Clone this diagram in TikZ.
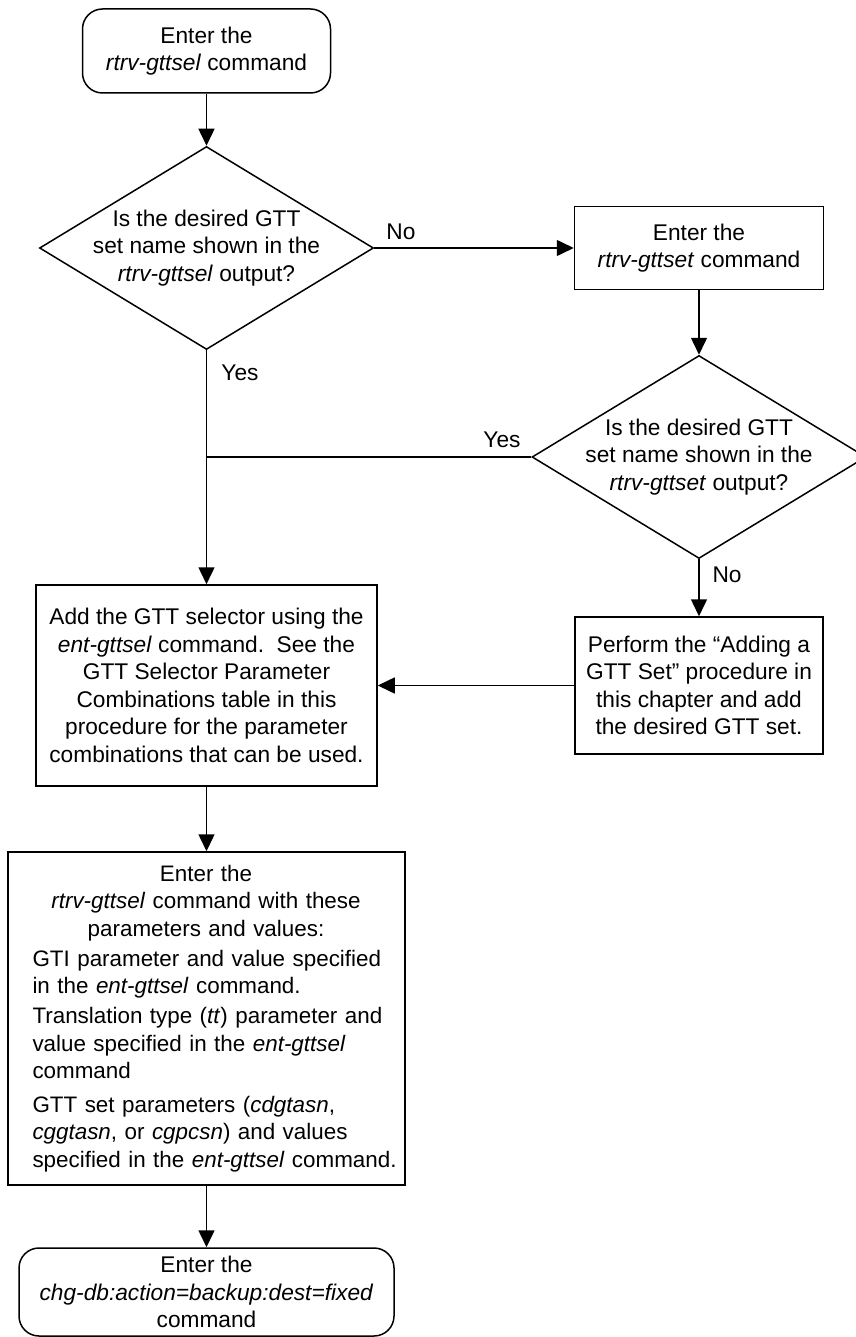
\documentclass[tikz,border=0pt]{standalone}
\usepackage{fontspec}
\setmainfont{Liberation Sans}
\usetikzlibrary{arrows.meta,shapes.geometric}
\begin{document}
\begin{tikzpicture}[x=1pt,y=-1pt,
  every node/.style={font=\fontsize{22.7}{27.5}\selectfont},
  line/.style={line width=1.5pt},
  arr/.style={line width=1.5pt,-{Triangle[length=17pt,width=16pt]}},
  terminal/.style={draw,line width=1.5pt,rounded corners=20pt,inner sep=0pt,align=center},
  procbox/.style={draw,line width=1.5pt,inner sep=0pt,align=center},
  decision/.style={draw,line width=1.5pt,diamond,inner sep=0pt,minimum width=334pt,minimum height=203pt},
  txt/.style={inner sep=0pt,align=center},
  lbl/.style={inner sep=0pt}
]
\useasboundingbox (0,0) rectangle (855,1337);

% start
\node[terminal,minimum width=248pt,minimum height=84pt] (start) at (206.5,51) {Enter the\\\textit{rtrv-gttsel} command};

% decision 1
\node[decision] (d1) at (206.5,248) {};
\node[txt] (d1t) at (d1.center) {Is the desired GTT\\set name shown in the\\\textit{rtrv-gttsel} output?};

% box 2
\node[procbox,minimum width=249pt,minimum height=83pt] (b2) at (699,248) {Enter the\\\textit{rtrv-gttset} command};

% decision 2
\node[decision] (d2) at (699,457) {};
\node[txt] (d2t) at (d2.center) {Is the desired GTT\\set name shown in the\\\textit{rtrv-gttset} output?};

% box 3
\node[procbox,minimum width=341pt,minimum height=201pt] (b3) at (206.5,685.5) {Add the GTT selector using the\\\textit{ent-gttsel} command.\ \ See the\\GTT Selector Parameter\\Combinations table in this\\procedure for the parameter\\combinations that can be used.};

% box 4
\node[procbox,minimum width=248pt,minimum height=137pt] (b4) at (699,685.5) {Perform the “Adding a\\GTT Set” procedure in\\this chapter and add\\the desired GTT set.};

% box 5
\node[procbox,minimum width=397pt,minimum height=333pt] (b5) at (206.5,1018.5) {};
\node[inner sep=0pt,text width=366pt,align=left,font=\fontsize{22.4}{27.5}\selectfont] (b5t) at ([xshift=9pt]b5.center) {%
\makebox[347pt]{Enter the}\\
\makebox[347pt]{\textit{rtrv-gttsel} command with these}\\
\makebox[347pt]{parameters and values:}\\[2.5pt]
GTI parameter and value specified\\
in the \textit{ent-gttsel} command.\\[2.5pt]
Translation type (\textit{tt}) parameter and\\
value specified in the \textit{ent-gttsel}\\
command\\[6pt]
GTT set parameters (\textit{cdgtasn},\\
\textit{cggtasn}, or \textit{cgpcsn}) and values\\
specified in the \textit{ent-gttsel} command.};

% end
\node[terminal,minimum width=375pt,minimum height=88pt] (end) at (206.5,1292) {Enter the\\\textit{chg-db:action=backup:dest=fixed}\\command};

% junction
\coordinate (j) at (d1.south |- d2.west);

% connectors
\draw[arr] (start.south) -- (d1.north);
\draw[arr] (d1.east) -- (b2.west);
\draw[arr] (b2.south) -- (d2.north);
\draw[arr] (d1.south) -- (b3.north);
\draw[line] (d2.west) -- (j);
\draw[arr] (d2.south) -- (b4.north);
\draw[arr] (b4.west) -- (b4.west -| b3.east);
\draw[arr] (b3.south) -- (b5.north);
\draw[arr] (b5.south) -- (end.north);

% labels
\node[lbl] (l1) at (401,232) {No};
\node[lbl] (l2) at (240,373) {Yes};
\node[lbl] (l3) at (502,440) {Yes};
\node[lbl] (l4) at (727,575) {No};
\end{tikzpicture}
\end{document}
